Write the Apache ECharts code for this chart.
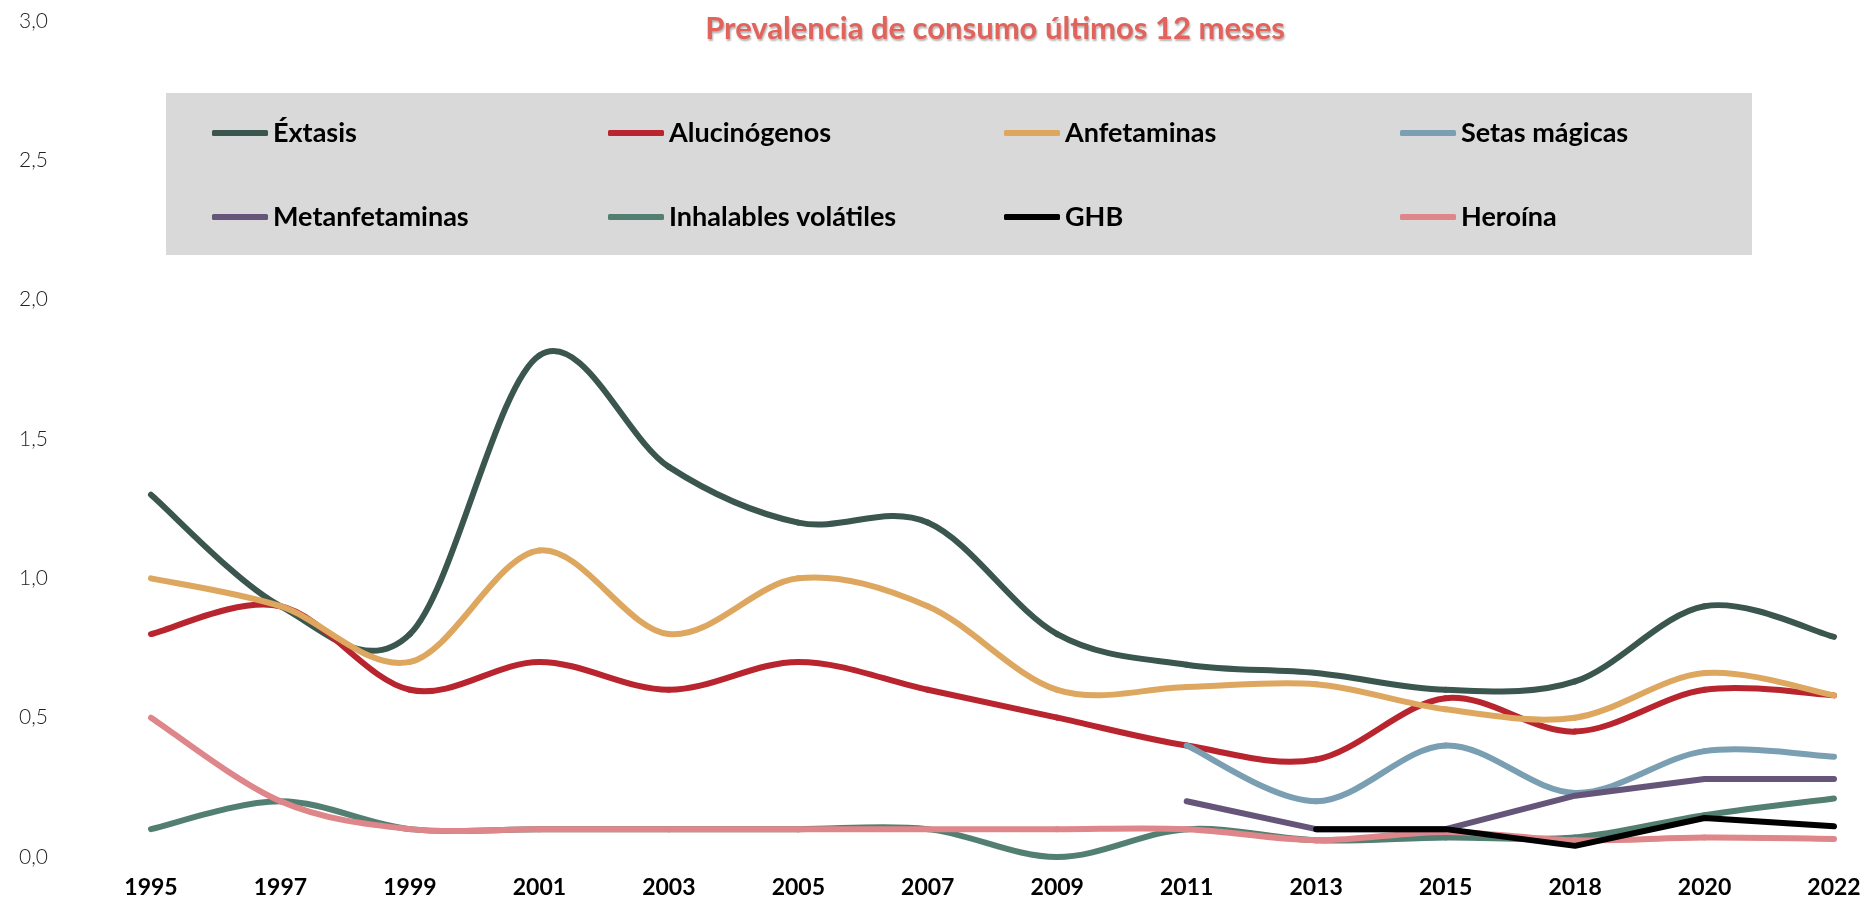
<!DOCTYPE html>
<html>
<head>
<meta charset="utf-8">
<script src="https://cdn.jsdelivr.net/npm/echarts@6/dist/echarts.min.js"></script>
<style>
  html, body { margin: 0; padding: 0; background: #fff; }
  #main { width: 1874px; height: 900px; }
</style>
</head>
<body>
<div id="main"></div>
<script>
var years = ['1995', '1997', '1999', '2001', '2003', '2005', '2007', '2009', '2011', '2013', '2015', '2018', '2020', '2022'];

var extasis = [1.3, 0.9, 0.8, 1.8, 1.4, 1.2, 1.2, 0.8, 0.69, 0.66, 0.6, 0.63, 0.9, 0.79];
var alucinogenos = [0.8, 0.9, 0.6, 0.7, 0.6, 0.7, 0.6, 0.5, 0.4, 0.35, 0.57, 0.45, 0.6, 0.58];
var anfetaminas = [1.0, 0.9, 0.7, 1.1, 0.8, 1.0, 0.9, 0.6, 0.61, 0.62, 0.53, 0.5, 0.66, 0.58];
var setas = [null, null, null, null, null, null, null, null, 0.4, 0.2, 0.4, 0.23, 0.38, 0.36];
var metanfetaminas = [null, null, null, null, null, null, null, null, 0.2, 0.1, 0.1, 0.22, 0.28, 0.28];
var inhalables = [0.1, 0.2, 0.1, 0.1, 0.1, 0.1, 0.1, 0.0, 0.1, 0.06, 0.07, 0.07, 0.15, 0.21];
var ghb = [null, null, null, null, null, null, null, null, null, 0.1, 0.1, 0.04, 0.14, 0.11];
var heroina = [0.5, 0.2, 0.1, 0.1, 0.1, 0.1, 0.1, 0.1, 0.1, 0.06, 0.09, 0.06, 0.07, 0.065];

var font = 'Lato';
var lineW = 6;

// linea recta normal
function recta(name, data, color) {
    return {
        name: name,
        type: 'line',
        data: data,
        showSymbol: false,
        symbol: 'none',
        lineStyle: { color: color, width: lineW, cap: 'round', join: 'round' },
        itemStyle: { color: color }
    };
}

// linea suavizada tipo Excel (catmull-rom), puntos via api.coord
function suave(name, values, color) {
    var pts = [];
    values.forEach(function (v, i) {
        if (v !== null) pts.push([i, v]);
    });
    return {
        name: name,
        type: 'custom',
        data: pts,
        encode: { x: 0, y: 1 },
        itemStyle: { color: color },
        renderItem: function (params, api) {
            if (params.dataIndex !== 0) return null;
            var c = pts.map(function (p) { return api.coord(p); });
            var children = [];
            for (var i = 0; i < c.length - 1; i++) {
                var p0 = c[Math.max(i - 1, 0)], p1 = c[i], p2 = c[i + 1], p3 = c[Math.min(i + 2, c.length - 1)];
                children.push({
                    type: 'bezierCurve',
                    shape: {
                        x1: p1[0], y1: p1[1],
                        cpx1: p1[0] + (p2[0] - p0[0]) / 6, cpy1: p1[1] + (p2[1] - p0[1]) / 6,
                        cpx2: p2[0] - (p3[0] - p1[0]) / 6, cpy2: p2[1] - (p3[1] - p1[1]) / 6,
                        x2: p2[0], y2: p2[1]
                    },
                    style: { stroke: color, lineWidth: lineW, fill: 'none', lineCap: 'round' }
                });
            }
            return { type: 'group', children: children };
        }
    };
}

var myChart = echarts.init(document.getElementById('main'));

var option = {
    animation: false,
    backgroundColor: '#ffffff',
    title: {
        text: 'Prevalencia de consumo últimos 12 meses',
        left: 990,
        textAlign: 'center',
        top: 8,
        textStyle: {
            color: '#E2635C',
            fontFamily: font,
            fontWeight: 'bold',
            fontSize: 31,
            textShadowColor: 'rgba(0,0,0,0.3)',
            textShadowOffsetX: 1,
            textShadowOffsetY: 2,
            textShadowBlur: 2
        }
    },
    graphic: [{
        type: 'rect',
        z: -10,
        shape: { x: 166, y: 93, width: 1586, height: 162 },
        style: { fill: '#D9D9D9' }
    }],
    legend: {
        left: 212,
        top: 101,
        padding: 0,
        width: 1570,
        itemGap: 20,
        itemWidth: 56,
        itemHeight: 6,
        icon: 'roundRect',
        textStyle: {
            fontFamily: font,
            fontWeight: 'bold',
            fontSize: 27,
            color: '#000',
            width: 315,
            lineHeight: 64
        }
    },
    grid: { left: 151, right: 40, top: 21, bottom: 43 },
    xAxis: {
        type: 'category',
        data: years,
        boundaryGap: false,
        axisLine: { show: false },
        axisTick: { show: false },
        axisLabel: {
            margin: 19,
            fontFamily: font,
            fontWeight: 'bold',
            fontSize: 23,
            color: '#000'
        }
    },
    yAxis: {
        type: 'value',
        min: 0,
        max: 3,
        interval: 0.5,
        splitLine: { show: false },
        axisLine: { show: false },
        axisTick: { show: false },
        axisLabel: {
            margin: 103,
            fontFamily: font,
            fontWeight: 300,
            fontSize: 21,
            color: '#222',
            formatter: function (v) { return v.toFixed(1).replace('.', ','); }
        }
    },
    series: [
        suave('Éxtasis', extasis, '#3A564E'),
        suave('Alucinógenos', alucinogenos, '#B8252F'),
        suave('Anfetaminas', anfetaminas, '#DEA760'),
        suave('Setas mágicas', setas, '#7A9FB3'),
        recta('Metanfetaminas', metanfetaminas, '#645579'),
        suave('Inhalables volátiles', inhalables, '#527F72'),
        recta('GHB', ghb, '#000000'),
        suave('Heroína', heroina, '#DE8689')
    ]
};
myChart.setOption(option);
</script>
</body>
</html>
